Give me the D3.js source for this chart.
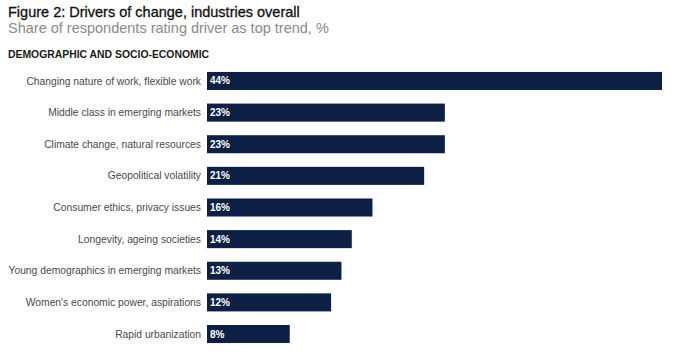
<!DOCTYPE html>
<html>
<head>
<meta charset="utf-8">
<script src="https://cdn.jsdelivr.net/npm/d3@7"></script>
<style>
  body { margin: 0; background: #fff; }
  svg text { font-family: "Liberation Sans", Arial, sans-serif; }
</style>
</head>
<body>
<svg id="chart"></svg>
<script>
// Drivers of change bar chart

const categories = [
    "Changing nature of work, flexible work",
    "Middle class in emerging markets",
    "Climate change, natural resources",
    "Geopolitical volatility",
    "Consumer ethics, privacy issues",
    "Longevity, ageing societies",
    "Young demographics in emerging markets",
    "Women's economic power, aspirations",
    "Rapid urbanization"
];
const values = [44, 23, 23, 21, 16, 14, 13, 12, 8];

const width = 686, height = 352;
const margin = { top: 65, right: 24, bottom: 2, left: 207 };

const svg = d3.select("#chart")
    .attr("width", width)
    .attr("height", height);

// titles
svg.append("text")
    .attr("x", 8).attr("y", 17)
    .attr("fill", "#111")
    .style("font-size", "14.5px")
    .style("stroke", "#111")
    .style("stroke-width", "0.3px")
    .text("Figure 2: Drivers of change, industries overall");

svg.append("text")
    .attr("x", 8).attr("y", 33)
    .attr("fill", "#8a8a8a")
    .style("font-size", "14.5px")
    .text("Share of respondents rating driver as top trend, %");

svg.append("text")
    .attr("x", 8).attr("y", 58)
    .attr("fill", "#1a1a1a")
    .style("font-size", "10.4px")
    .style("font-weight", "bold")
    .text("DEMOGRAPHIC AND SOCIO-ECONOMIC");

const x = d3.scaleLinear()
    .domain([0, 44])
    .range([margin.left, 662]);

const y = d3.scaleBand()
    .domain(categories)
    .range([margin.top, 350])
    .paddingInner(0.43)
    .paddingOuter(0.22);

const g = svg.append("g");

g.selectAll("rect.bar")
    .data(values)
    .join("rect")
    .attr("class", "bar")
    .attr("x", x(0))
    .attr("y", (d, i) => y(categories[i]))
    .attr("width", d => x(d) - x(0))
    .attr("height", y.bandwidth())
    .attr("fill", "#0c1f44");

g.selectAll("text.val")
    .data(values)
    .join("text")
    .attr("class", "val")
    .attr("x", x(0) + 3)
    .attr("y", (d, i) => y(categories[i]) + y.bandwidth() / 2)
    .attr("dy", "0.35em")
    .attr("fill", "#fff")
    .style("font-size", "10px")
    .style("font-weight", "bold")
    .text(d => d + "%");

// category labels
g.selectAll("text.cat")
    .data(categories)
    .join("text")
    .attr("class", "cat")
    .attr("x", x(0) - 6)
    .attr("y", d => y(d) + y.bandwidth() / 2)
    .attr("dy", "0.35em")
    .attr("text-anchor", "end")
    .attr("fill", "#4a4a4a")
    .style("font-size", "10.3px")
    .text(d => d);
</script>
</body>
</html>
